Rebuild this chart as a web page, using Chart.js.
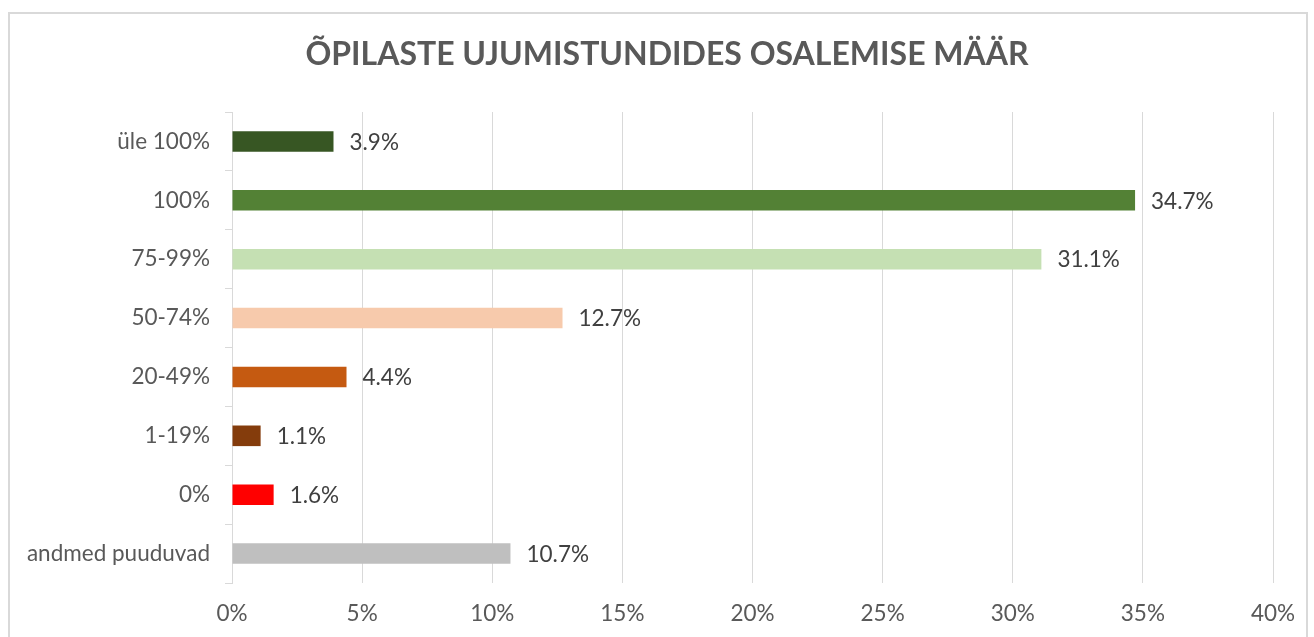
<!DOCTYPE html>
<html>
<head>
<meta charset="utf-8">
<script src="https://cdn.jsdelivr.net/npm/chart.js@4"></script>
<style>
  body { margin: 0; background: #fff; }
  #raam { position: absolute; left: 8px; top: 12px; width: 1296px; height: 640px; border: 2px solid #d9d9d9; }
  #wrap { position: absolute; left: 0; top: 0; width: 1314px; height: 637px; }
</style>
</head>
<body>
<div id="raam"></div>
<div id="wrap"><canvas id="graafik"></canvas></div>
<script>
// Andmed
const kategooriad = ['üle 100%', '100%', '75-99%', '50-74%', '20-49%', '1-19%', '0%', 'andmed puuduvad'];
const osakaal = [3.9, 34.7, 31.1, 12.7, 4.4, 1.1, 1.6, 10.7];
const varvid = ['#375623', '#538135', '#C5E0B3', '#F7CAAC', '#C55A11', '#843C0C', '#FF0000', '#BFBFBF'];
const xTikid = [0, 5, 10, 15, 20, 25, 30, 35, 40];
const pealkiri = 'ÕPILASTE UJUMISTUNDIDES OSALEMISE MÄÄR';

const font = 'Lato';

// pealkiri keset kogu lehte
const pealkiriPlugin = {
    id: 'pealkiri',
    afterDraw(chart) {
        const ctx = chart.ctx;
        ctx.save();
        ctx.font = 'bold 32px ' + font;
        ctx.fillStyle = '#595959';
        ctx.textAlign = 'center';
        ctx.textBaseline = 'middle';
        ctx.fillText(pealkiri, chart.width / 2 + 10, 55);
        ctx.restore();
    }
};

// väärtuste sildid tulpade otsa
const siltPlugin = {
    id: 'sildid',
    afterDatasetsDraw(chart) {
        const ctx = chart.ctx;
        const meta = chart.getDatasetMeta(0);
        ctx.save();
        ctx.font = '22.5px ' + font;
        ctx.fillStyle = '#404040';
        ctx.textAlign = 'left';
        ctx.textBaseline = 'middle';
        meta.data.forEach((bar, i) => {
            ctx.fillText(osakaal[i].toFixed(1) + '%', bar.x + 16, bar.y + 1);
        });
        ctx.restore();
    }
};

new Chart(document.getElementById('graafik'), {
    type: 'bar',
    data: {
        labels: kategooriad,
        datasets: [{
            data: osakaal,
            backgroundColor: varvid,
            categoryPercentage: 1,
            barPercentage: 0.35
        }]
    },
    options: {
        indexAxis: 'y',
        responsive: true,
        maintainAspectRatio: false,
        animation: false,
        layout: { padding: { left: 0, right: 41, top: 112, bottom: 0 } },
        plugins: {
            legend: { display: false },
            tooltip: { enabled: false },
            title: { display: false }
        },
        scales: {
            x: {
                min: 0,
                max: 40,
                afterBuildTicks(scale) {
                    scale.ticks = xTikid.map(v => ({ value: v }));
                },
                afterFit(scale) { scale.height = 54; },
                grid: { color: '#d9d9d9', drawTicks: false },
                border: { display: false },
                ticks: {
                    color: '#595959',
                    padding: 17,
                    font: { family: font, size: 22.5 },
                    callback: v => v + '%'
                }
            },
            y: {
                afterFit(scale) { scale.width = 232; },
                grid: { color: '#d9d9d9', drawOnChartArea: false, drawTicks: true, tickLength: 7 },
                border: { display: true, color: '#d9d9d9' },
                ticks: {
                    color: '#595959',
                    padding: 15,
                    font: { family: font, size: 22.5 }
                }
            }
        }
    },
    plugins: [siltPlugin, pealkiriPlugin]
});
</script>
</body>
</html>
